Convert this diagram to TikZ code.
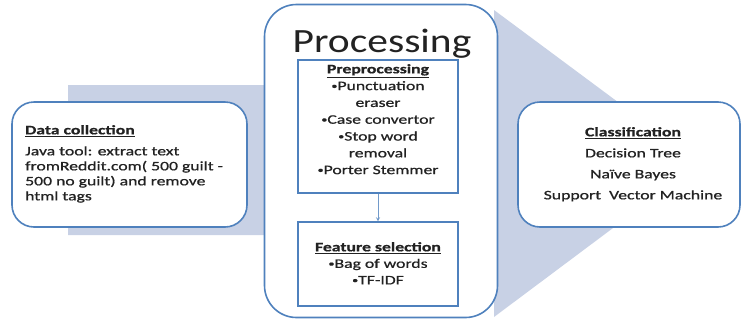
\documentclass[tikz,border=0pt]{standalone}
\usepackage{fontspec}
\setmainfont{Carlito}
\newfontfamily\wbody[FakeStretch=1.36,FakeBold=0.8]{Carlito}
\newfontfamily\wtitle[FakeStretch=1.22]{Carlito}
\newcommand\mybul{{\fontsize{9}{9}\selectfont\raisebox{1.2pt}{•}}}
\definecolor{boxblue}{HTML}{4F81BD}
\definecolor{bandfill}{HTML}{C8D1E5}
\definecolor{txt}{HTML}{222222}
\begin{document}
\begin{tikzpicture}[x=1pt,y=-1pt,
  roundbox/.style={draw=boxblue,line width=1.6pt,fill=white,rounded corners=#1},
  sqbox/.style={draw=boxblue,line width=1.4pt,fill=white},
  body/.style={text=txt,align=center,inner sep=0pt}]
\useasboundingbox (0,0) rectangle (741,322);
% background arrow
\fill[bandfill] (68,85) -- (494,85) -- (494,10) -- (700,163) -- (494,317) -- (494,235) -- (68,235) -- cycle;
% data collection
\node[roundbox=22pt,minimum width=235pt,minimum height=125pt,inner sep=0pt] (dc) at (129.5,164.5) {};
\node[body,align=left,anchor=north west,font=\wbody\fontsize{13}{15}\selectfont] (dct) at (25,125)
 {\underline{\textbf{Data collection}}\\[6pt]Java tool: extract text\\fromReddit.com( 500 guilt -\\500 no guilt) and remove\\html tags};
% processing
\node[roundbox=32pt,minimum width=233pt,minimum height=313pt,inner sep=0pt] (proc) at (381,161) {};
\node[text=txt,font=\wtitle\fontsize{34}{36}\selectfont,inner sep=0pt] (proct) at (382,44) {Processing};
\node[sqbox,minimum width=160pt,minimum height=133pt,inner sep=0pt] (pre) at (378,126.5) {};
\node[body,anchor=north,font=\wbody\fontsize{13}{16.8}\selectfont] (pret) at (378,64)
 {\underline{\textbf{Preprocessing}}\\\mybul Punctuation\\eraser\\\mybul Case convertor\\\mybul Stop word\\removal\\\mybul Porter Stemmer};
\node[sqbox,minimum width=160pt,minimum height=84pt,inner sep=0pt] (feat) at (378,264) {};
\node[body,anchor=north,font=\wbody\fontsize{13}{16.5}\selectfont] (featt) at (378,242)
 {\underline{\textbf{Feature selection}}\\\mybul Bag of words\\\mybul TF-IDF};
\draw[boxblue!80,line width=0.8pt,-{stealth}] (pre.south) -- (feat.north);
% classification
\node[roundbox=22pt,minimum width=222pt,minimum height=125pt,inner sep=0pt] (cls) at (629,164.5) {};
\node[body,anchor=north,font=\wbody\fontsize{13}{21}\selectfont] (clst) at (633,127)
 {\underline{\textbf{Classification}}\\Decision Tree\\Naïve Bayes\\Support\ \ Vector Machine};
\end{tikzpicture}
\end{document}
